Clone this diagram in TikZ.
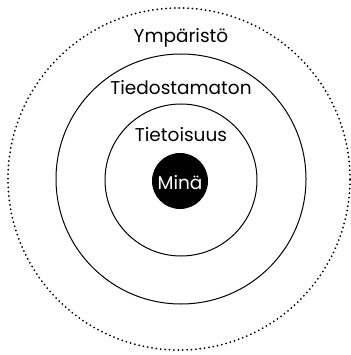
\documentclass[tikz,border=0pt]{standalone}
\usepackage{fontspec}
\setmainfont{Poppins}
\usetikzlibrary{positioning,calc}

\begin{document}
\begin{tikzpicture}
        [x=1pt,y=-1pt,
        every node/.style={circle,inner sep=0pt,line width=1pt},
        ring/.style={draw=black},
        layer/.style={rectangle,anchor=base,font=\fontsize{18.5}{22}\selectfont}]
        \useasboundingbox (0,0) rectangle (350,355);
        % rings from outside in
        \node[ring,line width=2pt,line cap=round,dash pattern=on 0pt off 4.4pt,minimum size=342pt] (env) at (179,179) {};
        \node[ring,minimum size=250pt] (unconscious) at (181,179) {};
        \node[ring,minimum size=152pt] (conscious) at (181,180) {};
        \node[fill=black,minimum size=56pt] (me) at (180,181) {};
        % labels
        \node[layer] (envlabel) at (181,43) {Ympäristö};
        \node[layer] (unclabel) at (181,95) {Tiedostamaton};
        \node[layer] (conlabel) at (181,142) {Tietoisuus};
        \node[layer,text=white] (melabel) at (180,189) {Minä};
\end{tikzpicture}
\end{document}
